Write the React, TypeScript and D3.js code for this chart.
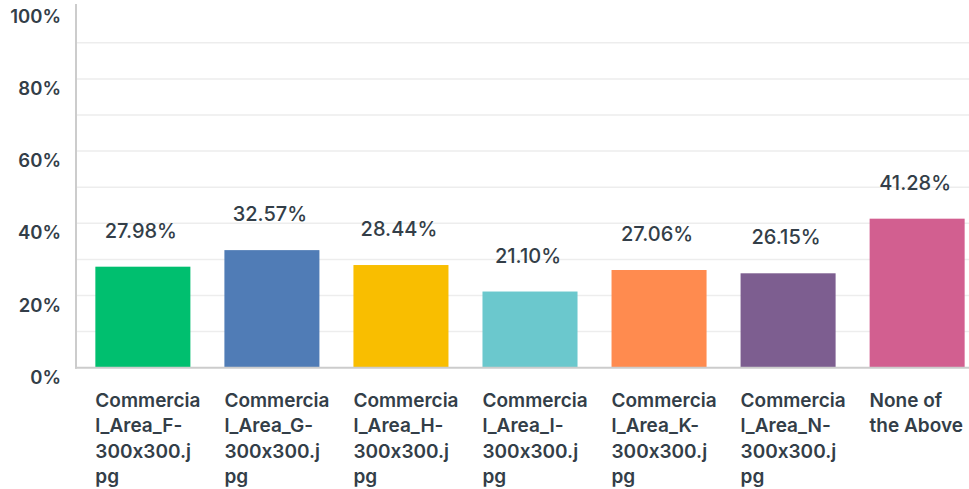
import React from "react";
import * as d3 from "d3";

const categoryLines: string[][] = [
  ["Commercia", "l_Area_F-", "300x300.j", "pg"],
  ["Commercia", "l_Area_G-", "300x300.j", "pg"],
  ["Commercia", "l_Area_H-", "300x300.j", "pg"],
  ["Commercia", "l_Area_I-", "300x300.j", "pg"],
  ["Commercia", "l_Area_K-", "300x300.j", "pg"],
  ["Commercia", "l_Area_N-", "300x300.j", "pg"],
  ["None of", "the Above"],
];
const values = [27.98, 32.57, 28.44, 21.1, 27.06, 26.15, 41.28];
const colors = ["#00bf6f", "#507cb6", "#f9be00", "#6bc8cd", "#ff8b4f", "#7d5e90", "#d25f90"];
const yTicks = [0, 20, 40, 60, 80, 100];
const gridTicks = [10, 20, 30, 40, 50, 60, 70, 80, 90];

const W = 969;
const H = 489;
const FONT = "Inter, 'Noto Sans', sans-serif";
const TEXT = "#333e48";

export default function App() {
  const ids = categoryLines.map((_, i) => String(i));
  const x = d3
    .scaleBand<string>()
    .domain(ids)
    .range([76, 984])
    .paddingInner(0.2636)
    .paddingOuter(0.15);
  const y = d3.scaleLinear().domain([0, 100]).range([367.7, 6.7]);
  return (
    <svg
      width={W}
      height={H}
      style={{ position: "absolute", left: 0, top: 0, display: "block", fontFeatureSettings: "'calt' 0" }}
      fontFamily={FONT}
    >
      {gridTicks.map((t) => (
        <line key={t} x1={76} x2={W} y1={y(t)} y2={y(t)} stroke="#ededed" strokeWidth={1.5} />
      ))}
      {values.map((v, i) => (
        <rect
          key={i}
          x={x(ids[i])}
          y={y(v)}
          width={x.bandwidth()}
          height={y(0) - y(v)}
          fill={colors[i]}
        />
      ))}
      <line x1={76} x2={76} y1={4} y2={y(0) + 1} stroke="#cccccc" strokeWidth={2} />
      <line x1={75} x2={W} y1={y(0)} y2={y(0)} stroke="#cccccc" strokeWidth={2} />
      {yTicks.map((t) => (
        <text
          key={t}
          x={61}
          y={y(t) + 9}
          textAnchor="end"
          dominantBaseline="central"
          fontSize={18.5}
          fontWeight={600}
          fill={TEXT}
        >
          {t}%
        </text>
      ))}
      {values.map((v, i) => (
        <text
          key={i}
          x={(x(ids[i]) as number) + x.bandwidth() / 2 - 2}
          y={y(v) - 36}
          textAnchor="middle"
          dominantBaseline="central"
          fontSize={20}
          fontWeight={500}
          fill={TEXT}
        >
          {v.toFixed(2)}%
        </text>
      ))}
      {categoryLines.map((lines, i) => (
        <text key={i} fontSize={19} fontWeight={600} fill={TEXT}>
          {lines.map((ln, j) => (
            <tspan key={j} x={x(ids[i])} y={400 + j * 25.6} dominantBaseline="central">
              {ln}
            </tspan>
          ))}
        </text>
      ))}
    </svg>
  );
}
